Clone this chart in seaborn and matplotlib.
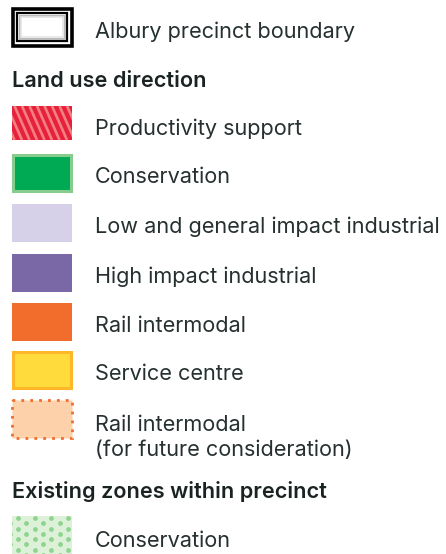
import numpy as np
import matplotlib
matplotlib.use("Agg")
import matplotlib.pyplot as plt
import seaborn as sns
from matplotlib.patches import Rectangle

sns.set_theme(style="white")
plt.rcParams['font.family'] = ['Inter', 'DejaVu Sans']

# ---- data ----
boundary_label = "Albury precinct boundary"
heading_direction = "Land use direction"
direction_labels = [
    "Productivity support",
    "Conservation",
    "Low and general impact industrial",
    "High impact industrial",
    "Rail intermodal",
    "Service centre",
    "Rail intermodal\n(for future consideration)",
]
direction_fill = ["#E8203F", "#00AA55", "#D6D0E8", "#7A68A6", "#F26C2B", "#FFDC3B", "#FDD1A9"]
direction_edge = [None, "#86CC8C", None, None, None, "#FDB728", "#F26C2B"]
heading_existing = "Existing zones within precinct"
existing_labels = ["Conservation"]

# ---- layout ----
W, H = 446, 554
fig = plt.figure(figsize=(W / 100, H / 100), dpi=100)
ax = fig.add_axes([0, 0, 1, 1])
ax.set_xlim(0, W)
ax.set_ylim(H, 0)
ax.axis("off")

SX, SW, TX = 12, 60, 95
TEXT_C = "#263030"
HEAD_C = "#1A2222"
FS = 15.6
OFF = 10.0

# boundary swatch
ax.add_patch(Rectangle((12.5, 8.5), 59, 37, fc="white", ec="black", lw=2.6))
ax.add_patch(Rectangle((17, 13), 50, 28, fc="white", ec="black", lw=1.6))
ax.add_patch(Rectangle((19.5, 15.5), 45, 23, fc="none", ec="#BBBBBB", lw=1.5))
ax.add_patch(Rectangle((21, 17), 42, 20, fc="none", ec="#E4E4E4", lw=1.2))
ax.text(TX, 38, boundary_label, fontsize=FS, color=TEXT_C, va="baseline")

ax.text(12, 87, heading_direction, fontsize=FS, color=HEAD_C, va="baseline", fontweight="semibold")

tops = [106, 154, 204, 254, 303, 351, 400]
sh = 38
for i, (lab, fc, ec) in enumerate(zip(direction_labels, direction_fill, direction_edge)):
    y0 = tops[i]
    if i == 0:
        r = Rectangle((SX, y0), SW, 34, fc=fc, ec="none")
        ax.add_patch(r)
        for x in np.arange(SX - 20, SX + SW + 8, 7.5):
            ln, = ax.plot([x, x + 15], [y0, y0 + 34], color="#F2817C", lw=1.9, solid_capstyle="butt")
            ln.set_clip_path(r)
        ax.text(TX, y0 + 19 + OFF, lab, fontsize=FS, color=TEXT_C, va="baseline")
        continue
    if ec is None:
        ax.add_patch(Rectangle((SX, y0), SW, sh, fc=fc, ec="none"))
    elif i == 6:
        ax.add_patch(Rectangle((SX, y0), SW, sh, fc=fc, ec=ec, lw=2.0, ls=(0, (1, 2.2))))
    else:
        ax.add_patch(Rectangle((SX + 1, y0 + 1), SW - 2, sh - 2, fc=fc, ec=ec, lw=2.2))
    if i == 6:
        for j, part in enumerate(lab.split("\n")):
            ax.text(TX, 431 + 25 * j, part, fontsize=FS, color=TEXT_C, va="baseline")
    else:
        ax.text(TX, y0 + sh / 2 + OFF, lab, fontsize=FS, color=TEXT_C, va="baseline")

ax.text(12, 498, heading_existing, fontsize=FS, color=HEAD_C, va="baseline", fontweight="semibold")

# dotted conservation swatch
y0 = 516
r = Rectangle((SX, y0), SW, 40, fc="#DDF1D8", ec="none")
ax.add_patch(r)
xs, ys = [], []
for k, yy in enumerate(np.arange(y0 + 2, y0 + 42, 5.3)):
    off = 0 if k % 2 else 8.3
    for xx in np.arange(SX + 6 + off - 8.3, SX + SW + 2, 16.6):
        xs.append(xx); ys.append(yy)
sc = ax.scatter(xs, ys, s=12, color="#8ED48F", linewidths=0)
sc.set_clip_path(r)
ax.text(TX, y0 + 20 + OFF + 1, existing_labels[0], fontsize=FS, color=TEXT_C, va="baseline")

fig.savefig("out.png", dpi=100)
